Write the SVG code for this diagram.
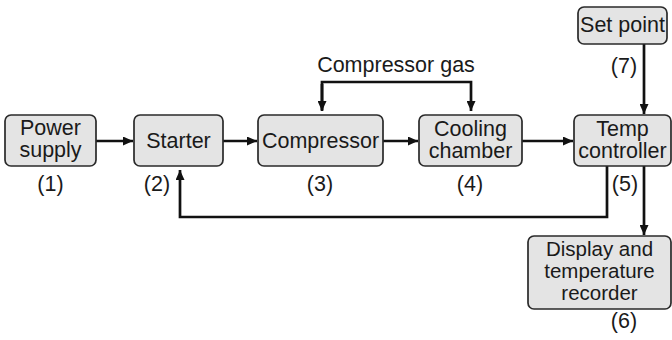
<svg xmlns="http://www.w3.org/2000/svg" width="672" height="340" viewBox="0 0 672 340">
<style>
.box{fill:#e4e4e4;stroke:#2a2a2a;stroke-width:1.7}
text{font-family:"Liberation Sans",Arial,sans-serif;font-size:21.5px;fill:#1a1a1a;text-anchor:middle}
.tight{font-size:20.5px}
.ln{fill:none;stroke:#111;stroke-width:2.7}
</style>
<defs>
<marker id="ah" viewBox="0 0 10 9" refX="10" refY="4.5" markerWidth="10" markerHeight="9" markerUnits="userSpaceOnUse" orient="auto">
<path d="M0,0 L10,4.5 L0,9 Z" fill="#111"/>
</marker>
</defs>
<rect width="672" height="340" fill="#fff"/>
<g id="connectors">
<line class="ln" x1="96" y1="141" x2="133" y2="141" marker-end="url(#ah)"/>
<line class="ln" x1="223" y1="141" x2="257" y2="141" marker-end="url(#ah)"/>
<line class="ln" x1="383" y1="141" x2="418" y2="141" marker-end="url(#ah)"/>
<line class="ln" x1="522" y1="141" x2="573" y2="141" marker-end="url(#ah)"/>
<polyline class="ln" points="322,110 322,82 471,82 471,111" marker-end="url(#ah)"/>
<line class="ln" x1="322" y1="84" x2="322" y2="111" marker-end="url(#ah)"/>
<line class="ln" x1="644" y1="44" x2="644" y2="114" marker-end="url(#ah)"/>
<polyline class="ln" points="607,166 607,217 180,217 180,170" marker-end="url(#ah)"/>
<line class="ln" x1="644" y1="166" x2="644" y2="235" marker-end="url(#ah)"/>
</g>
<g id="n1">
<rect class="box" x="5" y="115" width="91" height="51" rx="6"/>
<text x="50.5" y="135">Power</text>
<text x="50.5" y="157">supply</text>
<text x="50.5" y="191">(1)</text>
</g>
<g id="n2">
<rect class="box" x="134" y="115" width="89" height="51" rx="6"/>
<text x="178.5" y="148">Starter</text>
<text x="157" y="191">(2)</text>
</g>
<g id="n3">
<rect class="box" x="258" y="115" width="125" height="51" rx="6"/>
<text x="320.5" y="148">Compressor</text>
<text x="320" y="191">(3)</text>
</g>
<g id="n4">
<rect class="box" x="419" y="115" width="103" height="51" rx="6"/>
<text x="470.5" y="136">Cooling</text>
<text x="470.5" y="158">chamber</text>
<text x="470" y="191">(4)</text>
</g>
<g id="n5">
<rect class="box" x="574" y="115" width="97" height="51" rx="6"/>
<text x="622.5" y="136">Temp</text>
<text x="622.5" y="158">controller</text>
<text x="625" y="191">(5)</text>
</g>
<g id="n6">
<rect class="box" x="528" y="236" width="143" height="73" rx="6"/>
<text class="tight" x="599.5" y="256">Display and</text>
<text class="tight" x="599.5" y="278">temperature</text>
<text class="tight" x="599.5" y="300">recorder</text>
<text x="624" y="328">(6)</text>
</g>
<g id="n7">
<rect class="box" x="578" y="7" width="89" height="37" rx="6"/>
<text x="622.5" y="32">Set point</text>
<text x="624" y="73">(7)</text>
</g>
<g id="label-gas">
<text x="396" y="72">Compressor gas</text>
</g>
</svg>
